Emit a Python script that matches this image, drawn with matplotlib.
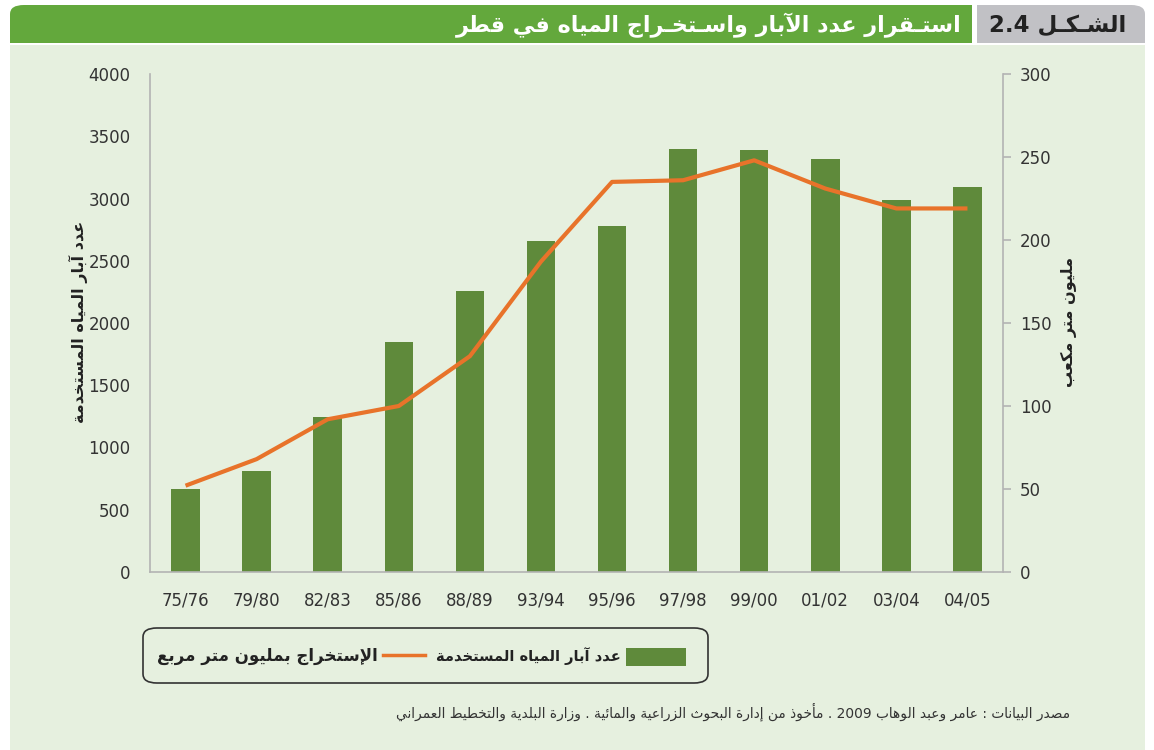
import re
import matplotlib
matplotlib.use("Agg")
import matplotlib.pyplot as plt
from matplotlib.patches import FancyBboxPatch, Rectangle
from matplotlib.lines import Line2D

# data
seasons = ['75/76', '79/80', '82/83', '85/86', '88/89', '93/94',
           '95/96', '97/98', '99/00', '01/02', '03/04', '04/05']
wells = [665, 815, 1245, 1847, 2257, 2659, 2779, 3398, 3390, 3317, 2988, 3092]
extraction = [52, 68, 92, 100, 130, 187, 235, 236, 248, 231, 219, 219]

left_ticks = [0, 500, 1000, 1500, 2000, 2500, 3000, 3500, 4000]
right_ticks = [0, 50, 100, 150, 200, 250, 300]

title_txt = 'استـقرار عدد الآبار واسـتخـراج المياه في قطر'
fig_no = 'الشـكـل 2.4'
wells_lbl = 'عدد آبار المياه المستخدمة'
extr_lbl = 'الإستخراج بمليون متر مربع'
right_lbl = 'مليون متر مكعب'
source_txt = ('مصدر البيانات : عامر وعبد الوهاب 2009 . مأخوذ من إدارة البحوث '
              'الزراعية والمائية . وزارة البلدية والتخطيط العمراني')

BAR_C = '#5f8a3b'
LINE_C = '#e8732a'
HEAD_C = '#63a83c'
GRAY_C = '#c1c1c5'
BG_C = '#e6f0df'

# --- tiny arabic shaper (no arabic_reshaper in the sandbox) ---
_forms = {
    'ء': (0xFE80, 1), 'آ': (0xFE81, 2), 'أ': (0xFE83, 2), 'ؤ': (0xFE85, 2),
    'إ': (0xFE87, 2), 'ئ': (0xFE89, 4), 'ا': (0xFE8D, 2), 'ب': (0xFE8F, 4),
    'ة': (0xFE93, 2), 'ت': (0xFE95, 4), 'ث': (0xFE99, 4), 'ج': (0xFE9D, 4),
    'ح': (0xFEA1, 4), 'خ': (0xFEA5, 4), 'د': (0xFEA9, 2), 'ذ': (0xFEAB, 2),
    'ر': (0xFEAD, 2), 'ز': (0xFEAF, 2), 'س': (0xFEB1, 4), 'ش': (0xFEB5, 4),
    'ص': (0xFEB9, 4), 'ض': (0xFEBD, 4), 'ط': (0xFEC1, 4), 'ظ': (0xFEC5, 4),
    'ع': (0xFEC9, 4), 'غ': (0xFECD, 4), 'ف': (0xFED1, 4), 'ق': (0xFED5, 4),
    'ك': (0xFED9, 4), 'ل': (0xFEDD, 4), 'م': (0xFEE1, 4), 'ن': (0xFEE5, 4),
    'ه': (0xFEE9, 4), 'و': (0xFEED, 2), 'ى': (0xFEEF, 2), 'ي': (0xFEF1, 4),
    'ـ': (0x0640, 0),
}
_lamalef = {'آ': 0xFEF5, 'أ': 0xFEF7, 'إ': 0xFEF9, 'ا': 0xFEFB}


def _dual(c):
    return c in _forms and _forms[c][1] in (0, 4)


def ar(s):
    out = []
    i = 0
    n = len(s)
    while i < n:
        c = s[i]
        if c not in _forms:
            out.append(c)
            i += 1
            continue
        prev = s[i - 1] if i > 0 else ''
        joins_prev = _dual(prev) and prev != ''
        if c == 'ل' and i + 1 < n and s[i + 1] in _lamalef:
            out.append(chr(_lamalef[s[i + 1]] + (1 if joins_prev else 0)))
            i += 2
            continue
        nxt = s[i + 1] if i + 1 < n else ''
        joins_next = _dual(c) and nxt in _forms
        base, k = _forms[c]
        if k == 0:
            out.append(c)
        elif k == 1:
            out.append(chr(base))
        elif k == 2:
            out.append(chr(base + (1 if joins_prev else 0)))
        else:
            idx = {(False, False): 0, (True, False): 1,
                   (False, True): 2, (True, True): 3}[(joins_prev, joins_next)]
            out.append(chr(base + idx))
        i += 1
    vis = ''.join(out)[::-1]
    return re.sub(r'[0-9][0-9.]*[0-9]|[0-9]', lambda m: m.group(0)[::-1], vis)


plt.rcParams['font.family'] = ['DejaVu Sans']

fig = plt.figure(figsize=(11.54, 7.5), dpi=100)
W, H = 1154, 750


def fx(px):
    return px / W


def fy(py):
    return 1 - py / H


def panel(x0, y0, w, h, color, rounded=False):
    # header / background blocks, kept behind the axes
    if rounded:
        p = FancyBboxPatch((fx(x0), fy(y0 + h)), fx(w), h / H,
                           boxstyle='round,pad=0,rounding_size=0.012',
                           transform=fig.transFigure, facecolor=color,
                           edgecolor='none', zorder=-5)
    else:
        p = Rectangle((fx(x0), fy(y0 + h)), fx(w), h / H, transform=fig.transFigure,
                      facecolor=color, edgecolor='none', zorder=-5)
    fig.patches.append(p)


panel(10, 45, 1135, 705, BG_C)
panel(10, 5, 962, 38, HEAD_C, rounded=True)
panel(10, 23, 30, 20, HEAD_C)
panel(940, 5, 32, 38, HEAD_C)
panel(977, 5, 168, 38, GRAY_C, rounded=True)
panel(977, 5, 40, 38, GRAY_C)
panel(1115, 23, 30, 20, GRAY_C)

fig.text(fx(962), fy(25), ar(title_txt), ha='right', va='center', color='white',
         fontsize=16, fontweight='bold')
fig.text(fx(1126), fy(25), ar(fig_no), ha='right', va='center', color='#222222',
         fontsize=16.5, fontweight='bold')

# main axes
ax = fig.add_axes([fx(150), fy(572), fx(853), 498 / H])
ax.set_facecolor('none')
x = list(range(len(seasons)))
ax.bar(x, wells, width=0.4, color=BAR_C, zorder=2)
ax.set_xlim(-0.5, len(seasons) - 0.5)
ax.set_ylim(0, 4000)
ax.set_yticks(left_ticks)
ax.set_xticks(x)
ax.set_xticklabels(seasons)
ax.tick_params(axis='y', length=0, pad=14, labelsize=12, labelcolor='#333333')
ax.tick_params(axis='x', length=0, pad=14, labelsize=12, labelcolor='#333333')
for s in ['top', 'right']:
    ax.spines[s].set_visible(False)
for s in ['left', 'bottom']:
    ax.spines[s].set_color('#b3b3b3')
    ax.spines[s].set_linewidth(1.2)

ax2 = ax.twinx()
ax2.plot(x, extraction, color=LINE_C, linewidth=3, zorder=3, solid_capstyle='butt')
ax2.set_ylim(0, 300)
ax2.set_yticks(right_ticks)
ax2.tick_params(axis='y', length=6, width=1.2, color='#b3b3b3', pad=6,
                labelsize=12, labelcolor='#333333')
for s in ['top', 'left', 'bottom']:
    ax2.spines[s].set_visible(False)
ax2.spines['right'].set_color('#b3b3b3')
ax2.spines['right'].set_linewidth(1.2)

fig.text(fx(78), fy(322), ar(wells_lbl), rotation=90, ha='center', va='center',
         fontsize=11.5, fontweight='bold', color='#222222')
fig.text(fx(1069), fy(322), ar(right_lbl), rotation=90, ha='center', va='center',
         fontsize=11.5, fontweight='bold', color='#222222')

# legend box (right-to-left layout)
fig.patches.append(FancyBboxPatch((fx(143), fy(683)), fx(565), 55 / H,
                                  boxstyle='round,pad=0,rounding_size=0.012',
                                  transform=fig.transFigure, facecolor='none',
                                  edgecolor='#333333', linewidth=1.2))
fig.patches.append(Rectangle((fx(626), fy(666)), fx(60), 18 / H, transform=fig.transFigure,
                             facecolor=BAR_C, edgecolor='none'))
fig.text(fx(621), fy(656), ar(wells_lbl), ha='right', va='center', fontsize=10.5,
         fontweight='bold', color='#222222')
fig.lines.append(Line2D([fx(383), fx(425)], [fy(655), fy(655)], transform=fig.transFigure,
                        color=LINE_C, linewidth=2.5))
fig.text(fx(378), fy(656), ar(extr_lbl), ha='right', va='center', fontsize=12,
         fontweight='bold', color='#222222')

fig.text(fx(1070), fy(712), ar(source_txt), ha='right', va='center', fontsize=9.9,
         color='#333333')

fig.savefig('out.png', dpi=100, facecolor='white')
